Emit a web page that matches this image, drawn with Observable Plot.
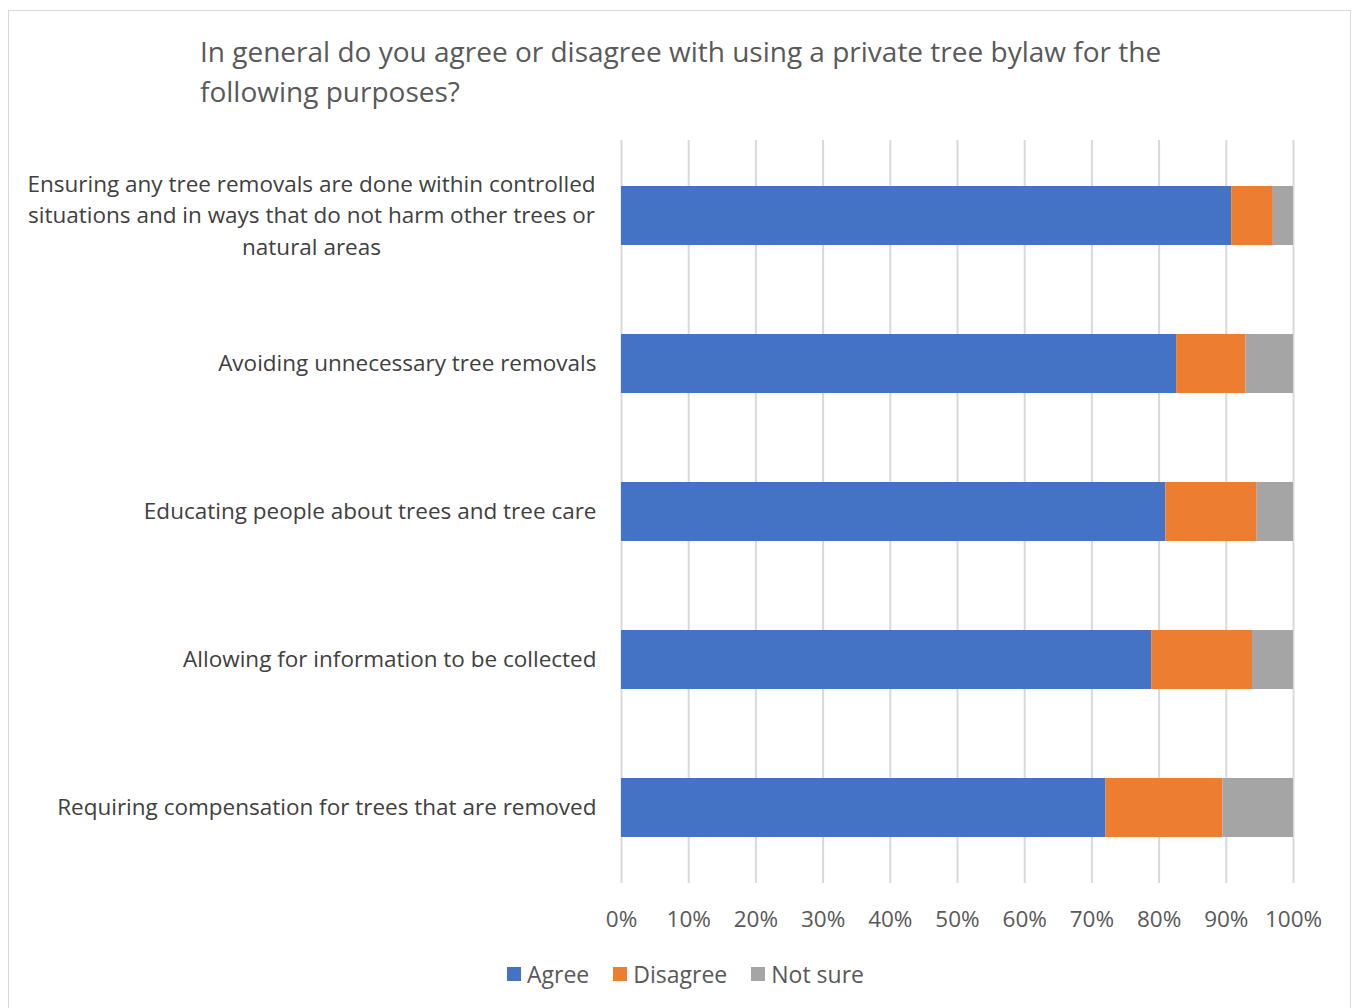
<!DOCTYPE html>
<html>
<head>
<meta charset="utf-8">
<script src="https://cdn.jsdelivr.net/npm/d3@7"></script>
<script src="https://cdn.jsdelivr.net/npm/@observablehq/plot@0.6"></script>
<style>
  html, body { margin: 0; padding: 0; background: #fff; }
  body { width: 1353px; height: 1008px; position: relative; overflow: hidden; font-family: "Open Sans", "Noto Sans", sans-serif; }
  #frame { position: absolute; left: 8px; top: 10px; width: 1343px; height: 1000px; border: 1px solid #d9d9d9; box-sizing: border-box; }
  #title { position: absolute; left: 200px; top: 31px; font-size: 28px; line-height: 40px; color: #595959; white-space: nowrap; }
  #chart { position: absolute; left: 0; top: 0; }
  #legend { position: absolute; left: 0; width: 1353px; top: 958px; display: flex; justify-content: center; gap: 24px; font-size: 23px; line-height: 32px; color: #595959; padding-left: 18px; box-sizing: border-box; }
  #legend span.item { display: flex; align-items: center; gap: 6px; }
  #legend span.sw { width: 14px; height: 14px; display: inline-block; }
</style>
</head>
<body>
<div id="frame"></div>
<div id="title">In general do you agree or disagree with using a private tree bylaw for the<br>following purposes?</div>
<div id="chart"></div>
<div id="legend"></div>
<script>
const categories = [
  "Ensuring any tree removals are done within controlled\nsituations and in ways that do not harm other trees or\nnatural areas",
  "Avoiding unnecessary tree removals",
  "Educating people about trees and tree care",
  "Allowing for information to be collected",
  "Requiring compensation for trees that are removed"
];
const series = ["Agree", "Disagree", "Not sure"];
const agree    = [90.8, 82.6, 81.0, 78.9, 72.1];
const disagree = [6.2, 10.3, 13.6, 15.0, 17.4];
const notSure  = [3.0, 7.1, 5.4, 6.1, 10.5];
const colors = ["#4472C4", "#ED7D31", "#A5A5A5"];
const xTicks = [0, 10, 20, 30, 40, 50, 60, 70, 80, 90, 100];

const values = [agree, disagree, notSure];
const rows = [];
series.forEach((s, si) => {
  categories.forEach((c, ci) => rows.push({category: c, series: s, value: values[si][ci]}));
});

const chart = Plot.plot({
  width: 1353,
  height: 945,
  marginLeft: 621,
  marginRight: 60,
  marginTop: 140,
  marginBottom: 62,
  style: {fontFamily: '"Open Sans", "Noto Sans", sans-serif', fontSize: "22px", color: "#595959", background: "transparent"},
  x: {domain: [0, 100]},
  y: {domain: categories, paddingInner: 0.6, paddingOuter: 0.3},
  color: {domain: series, range: colors},
  marks: [
    Plot.gridX(xTicks, {stroke: "#d9d9d9", strokeOpacity: 1, strokeWidth: 2}),
    Plot.barX(rows, Plot.stackX({x: "value", y: "category", fill: "series", order: null, inset: 0})),
    Plot.axisX(xTicks, {tickSize: 0, tickPadding: 28, tickFormat: d => d + "%", fill: "#595959", fontSize: 22.5, label: null}),
    Plot.axisY({ticks: [], label: null, tickSize: 0}),
    Plot.text(categories.filter(c => !c.includes("\n")), {y: d => d, frameAnchor: "left", textAnchor: "end", dx: -25, fill: "#404040", fontSize: 22.5}),
    Plot.text(categories.filter(c => c.includes("\n")), {y: d => d, frameAnchor: "left", textAnchor: "middle", dx: -310, dy: -3, lineHeight: 1.4, fill: "#404040", fontSize: 22.5})
  ]
});
document.getElementById("chart").appendChild(chart);

const legend = document.getElementById("legend");
series.forEach((s, i) => {
  const item = document.createElement("span");
  item.className = "item";
  const sw = document.createElement("span");
  sw.className = "sw";
  sw.style.background = colors[i];
  item.appendChild(sw);
  item.appendChild(document.createTextNode(s));
  legend.appendChild(item);
});
</script>
</body>
</html>
